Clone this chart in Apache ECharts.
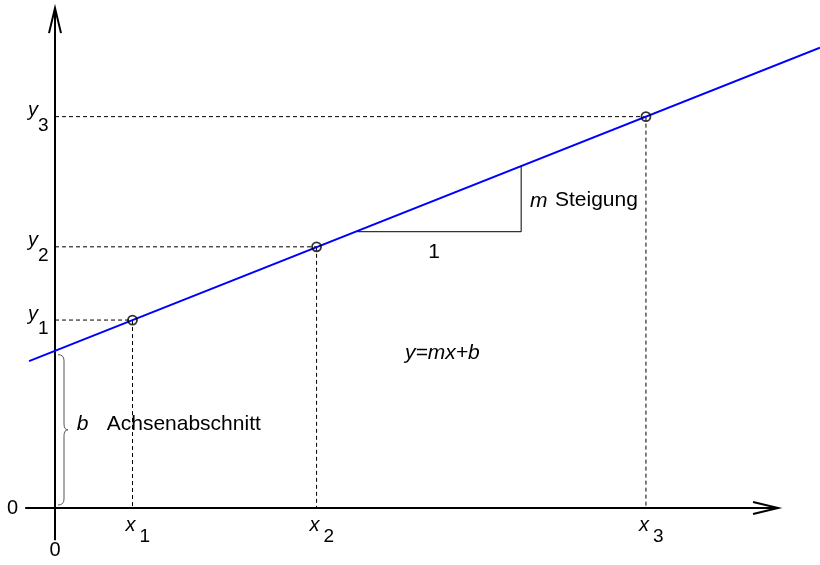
<!DOCTYPE html>
<html><head><meta charset="utf-8">
<script src="https://cdn.jsdelivr.net/npm/echarts@6/dist/echarts.min.js"></script>
<style>html,body{margin:0;padding:0;background:#fff}#c{width:820px;height:565px}</style>
</head><body><div id="c"></div>
<script>
// ---- data (units: 1 = 38.75 px) ----
const pointSubscripts = ['1', '2', '3'];
const pointX = [2, 6.75, 15.25];
const pointY = [4.85, 6.74, 10.10];
const interceptB = 4.06;
const lineX = [-0.67, 19.74];
const lineY = [3.79, 11.88];
const slopeTriX = [7.81, 12.03, 12.03];
const slopeTriY = [7.13, 7.13, 8.83];
const xAxisExtent = [-0.77, 18.66];
const yAxisExtent = [-0.83, 12.90];
const originLabel = '0';
const slopeRunLabel = '1';
const formulaLabel = 'y=mx+b';
const interceptLabel = ['b', 'Achsenabschnitt'];
const slopeLabel = ['m', 'Steigung'];

// ---- layout / style ----
const FONT = '"Liberation Sans", Arial, Helvetica, sans-serif';
const font = (s, it) => (it ? 'italic ' : '') + s + 'px ' + FONT;
const MAIN = 21, AX = 20, SUB = 19;

const chart = echarts.init(document.getElementById('c'), null, {renderer: 'canvas'});

const pts = pointX.map((x, i) => [x, pointY[i], i]);

function txt(x, y, text, size, italic, align) {
  return {type: 'text', x: x, y: y, style: {text: text, font: font(size, italic), fill: '#000',
    align: align || 'left', verticalAlign: 'middle'}};
}
function gtxt(x, y, text, italic, align) {
  return {type: 'text', x: x, y: y, style: {text: text, font: font(MAIN, italic), fill: '#000',
    align: align || 'left', verticalAlign: 'middle'}};
}

const option = {
  animation: false,
  backgroundColor: '#fff',
  grid: {left: 0, right: 0, top: 0, bottom: 0},
  xAxis: {type: 'value', min: -1.4194, max: 19.7419, show: false},
  yAxis: {type: 'value', min: -1.4710, max: 13.1097, show: false},
  series: [
    { // dashed guides
      type: 'custom', z: 1, data: pts, encode: {x: 0, y: 1}, clip: false,
      renderItem: function (params, api) {
        const x = api.value(0), y = api.value(1);
        const p = api.coord([x, y]), bx = api.coord([x, 0]), by = api.coord([0, y]);
        const st = {stroke: '#000', lineWidth: 1, lineDash: [4, 3], fill: null};
        return {type: 'group', children: [
          {type: 'line', shape: {x1: by[0], y1: by[1], x2: p[0], y2: p[1]}, style: st},
          {type: 'line', shape: {x1: p[0], y1: p[1], x2: bx[0], y2: bx[1]}, style: st}
        ]};
      }
    },
    { // axes with open arrow heads
      type: 'custom', z: 2, data: [[0, 0]], encode: {x: 0, y: 1}, clip: false,
      renderItem: function (params, api) {
        const xs = api.coord([xAxisExtent[0], 0]), xe = api.coord([xAxisExtent[1], 0]);
        const ys = api.coord([0, yAxisExtent[0]]), ye = api.coord([0, yAxisExtent[1]]);
        const st = {stroke: '#000', lineWidth: 2, fill: null};
        return {type: 'group', children: [
          {type: 'line', shape: {x1: xs[0], y1: xs[1], x2: xe[0], y2: xe[1]}, style: st},
          {type: 'line', shape: {x1: ys[0], y1: ys[1], x2: ye[0], y2: ye[1]}, style: st},
          {type: 'polyline', shape: {points: [[xe[0] - 25, xe[1] - 6], [xe[0], xe[1]], [xe[0] - 25, xe[1] + 6]]}, style: st},
          {type: 'polyline', shape: {points: [[ye[0] - 6, ye[1] + 25], [ye[0], ye[1]], [ye[0] + 6, ye[1] + 25]]}, style: st}
        ]};
      }
    },
    { // brace marking the intercept b
      type: 'custom', z: 2, data: [[0, interceptB]], encode: {x: 0, y: 1}, clip: false,
      renderItem: function (params, api) {
        const top = api.coord([0, api.value(1)]), bot = api.coord([0, 0]);
        const x0 = top[0] + 3, x1 = top[0] + 9, x2 = top[0] + 13;
        const t = top[1] + 4, b = bot[1] - 3, m = (t + b) / 2;
        const st = {stroke: '#555', lineWidth: 1, fill: null};
        return {type: 'group', children: [
          {type: 'bezierCurve', shape: {x1: x0, y1: t, cpx1: x1, cpy1: t, x2: x1, y2: t + 6}, style: st},
          {type: 'line', shape: {x1: x1, y1: t + 6, x2: x1, y2: m - 6}, style: st},
          {type: 'bezierCurve', shape: {x1: x1, y1: m - 6, cpx1: x1, cpy1: m, x2: x2, y2: m}, style: st},
          {type: 'bezierCurve', shape: {x1: x2, y1: m, cpx1: x1, cpy1: m, x2: x1, y2: m + 6}, style: st},
          {type: 'line', shape: {x1: x1, y1: m + 6, x2: x1, y2: b - 6}, style: st},
          {type: 'bezierCurve', shape: {x1: x1, y1: b - 6, cpx1: x1, cpy1: b, x2: x0, y2: b}, style: st}
        ]};
      }
    },
    { // the straight line y = mx + b
      type: 'line', z: 3, data: lineX.map((x, i) => [x, lineY[i]]), showSymbol: false, symbol: 'none',
      lineStyle: {color: '#0000ff', width: 2}, clip: false
    },
    { // slope triangle
      type: 'line', z: 3, data: slopeTriX.map((x, i) => [x, slopeTriY[i]]), showSymbol: false, symbol: 'none',
      lineStyle: {color: '#000', width: 1}, clip: false
    },
    { // points
      type: 'scatter', z: 5, data: pts.map(p => [p[0], p[1]]), symbol: 'circle', symbolSize: 9,
      itemStyle: {color: 'rgba(255,255,255,0)', borderColor: '#000', borderWidth: 1.8}
    },
    { // axis labels x_k, y_k
      type: 'custom', z: 6, data: pts, encode: {x: 0, y: 1}, clip: false,
      renderItem: function (params, api) {
        const x = api.value(0), y = api.value(1), s = pointSubscripts[api.value(2)];
        const bx = api.coord([x, 0]), by = api.coord([0, y]);
        return {type: 'group', children: [
          txt(by[0] - 27, by[1] - 6, 'y', AX, true),
          txt(by[0] - 17, by[1] + 9, s, SUB, false),
          txt(bx[0] - 7, bx[1] + 17.5, 'x', AX, true),
          txt(bx[0] + 7, bx[1] + 28.5, s, SUB, false)
        ]};
      }
    },
    { // origin labels
      type: 'custom', z: 6, data: [[0, 0]], encode: {x: 0, y: 1}, clip: false,
      renderItem: function (params, api) {
        const o = api.coord([0, 0]);
        return {type: 'group', children: [
          txt(o[0] - 37, o[1] + 0.5, originLabel, AX, false, 'right'),
          txt(o[0], o[1] + 42.5, originLabel, AX, false, 'center')
        ]};
      }
    }
  ],
  graphic: [
    gtxt(76.7, 424.3, interceptLabel[0], true),
    gtxt(106.7, 424.3, interceptLabel[1], false),
    gtxt(530, 200.7, slopeLabel[0], true),
    gtxt(555, 200.7, slopeLabel[1], false),
    gtxt(434, 252.7, slopeRunLabel, false, 'center'),
    gtxt(405, 352.7, formulaLabel, true)
  ]
};
chart.setOption(option);
</script>
</body></html>
